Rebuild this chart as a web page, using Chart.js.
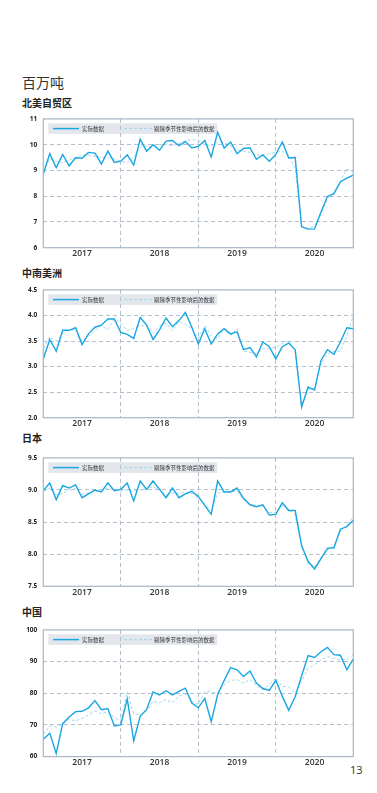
<!DOCTYPE html>
<html><head><meta charset="utf-8">
<script src="https://cdn.jsdelivr.net/npm/chart.js@4/dist/chart.umd.min.js"></script>
<style>
html,body{margin:0;padding:0;background:#fff;width:377px;height:793px;overflow:hidden;font-family:"Noto Sans CJK SC",sans-serif;}
.t{position:absolute;left:22px;color:#222;white-space:nowrap;line-height:1;}
.unit{font-size:14px;font-weight:400;color:#333;}
.pt{font-size:10px;font-weight:700;}
.pg{position:absolute;left:350px;top:764px;font-family:"Open Sans",sans-serif;font-size:11px;color:#333;line-height:1;}
canvas{position:absolute;left:0;}
</style></head><body>
<div class="t unit" style="top:75px">百万吨</div>
<div class="t pt" style="top:97.5px">北美自贸区</div>
<div class="t pt" style="top:267.8px">中南美洲</div>
<div class="t pt" style="top:432.8px">日本</div>
<div class="t pt" style="top:606.8px">中国</div>
<div class="pg">13</div>
<canvas id="c1"></canvas>
<canvas id="c2"></canvas>
<canvas id="c3"></canvas>
<canvas id="c4"></canvas>
<script>
const months = ['2017-01','2017-02','2017-03','2017-04','2017-05','2017-06','2017-07','2017-08','2017-09','2017-10','2017-11','2017-12',
'2018-01','2018-02','2018-03','2018-04','2018-05','2018-06','2018-07','2018-08','2018-09','2018-10','2018-11','2018-12',
'2019-01','2019-02','2019-03','2019-04','2019-05','2019-06','2019-07','2019-08','2019-09','2019-10','2019-11','2019-12',
'2020-01','2020-02','2020-03','2020-04','2020-05','2020-06','2020-07','2020-08','2020-09','2020-10','2020-11','2020-12','2021-01'];
const yearLabels = ['2017','2018','2019','2020'];
const seriesNames = ['实际数据','剔除季节性影响后的数据'];

const naActual = [8.87,9.65,9.11,9.62,9.18,9.49,9.47,9.70,9.67,9.25,9.75,9.31,
9.36,9.60,9.21,10.21,9.74,10.00,9.78,10.14,10.16,9.96,10.12,9.87,
9.93,10.16,9.52,10.48,9.87,10.10,9.65,9.85,9.88,9.43,9.60,9.36,
9.62,10.11,9.48,9.50,6.81,6.72,6.73,7.39,7.99,8.10,8.55,8.70,8.82];
const naAdjusted = [8.94,9.45,9.35,9.30,9.40,9.50,9.60,9.60,9.55,9.50,9.50,9.45,
9.35,9.30,9.50,9.90,9.95,9.90,10.00,10.00,9.95,10.05,10.15,10.20,
10.15,10.00,9.95,10.10,10.10,9.95,9.80,9.75,9.70,9.60,9.60,9.65,
9.70,9.75,9.60,9.10,6.85,6.75,6.85,7.30,7.90,8.15,8.60,9.05,8.95];

const csaActual = [3.15,3.53,3.30,3.71,3.71,3.76,3.43,3.64,3.77,3.81,3.93,3.93,
3.67,3.63,3.55,3.96,3.81,3.53,3.72,3.95,3.78,3.90,4.06,3.77,
3.44,3.74,3.44,3.64,3.74,3.64,3.68,3.33,3.37,3.19,3.48,3.39,
3.15,3.39,3.46,3.33,2.21,2.60,2.54,3.12,3.33,3.24,3.48,3.76,3.74];
const csaAdjusted = [3.35,3.58,3.50,3.65,3.72,3.72,3.50,3.60,3.70,3.80,3.72,3.93,
3.85,3.70,3.75,3.80,3.80,3.65,3.80,3.85,3.70,3.88,3.82,3.75,
3.55,3.80,3.60,3.55,3.74,3.60,3.75,3.30,3.28,3.25,3.35,3.35,
3.38,3.45,3.50,3.30,2.25,2.55,2.58,3.05,3.25,3.30,3.30,3.60,4.00];

const jpActual = [8.99,9.11,8.85,9.07,9.03,9.08,8.88,8.94,9.00,8.97,9.11,8.99,
9.01,9.11,8.83,9.14,9.01,9.14,9.01,8.88,9.03,8.88,8.94,8.98,
8.90,8.76,8.62,9.14,8.97,8.97,9.03,8.87,8.77,8.74,8.77,8.61,
8.62,8.80,8.68,8.68,8.13,7.89,7.77,7.93,8.09,8.10,8.39,8.43,8.53];
const jpAdjusted = [8.98,9.03,8.92,8.95,9.00,9.02,8.93,8.96,8.98,9.00,9.03,9.00,
8.98,9.00,8.98,9.00,9.02,9.05,9.00,8.92,8.95,8.95,8.96,8.95,
8.88,8.78,8.68,8.95,8.97,8.98,8.98,8.85,8.78,8.75,8.75,8.65,
8.65,8.75,8.70,8.60,8.15,7.85,7.80,7.95,8.07,8.12,8.36,8.45,8.58];

const cnActual = [65.5,67.4,61.0,70.4,72.5,74.2,74.3,75.4,77.7,74.8,75.2,69.7,
70.0,78.2,65.0,72.7,74.9,80.4,79.5,80.8,79.5,80.6,81.6,76.9,
75.4,78.4,71.0,79.6,84.0,88.1,87.4,85.3,87.0,83.2,81.5,80.9,
84.1,79.1,74.6,78.9,85.5,91.9,91.3,93.1,94.5,92.2,92.0,87.4,90.8];
const cnAdjusted = [67.0,69.7,69.4,70.2,71.8,71.3,72.1,73.1,74.4,73.5,74.2,72.3,
71.3,80.4,73.5,73.1,74.4,77.5,77.0,78.0,77.0,79.1,79.8,77.5,
76.5,80.6,80.4,80.1,82.7,84.0,84.3,83.2,84.3,82.5,81.1,82.7,
84.8,82.2,81.9,80.1,83.8,87.9,89.0,90.5,91.6,91.0,90.5,90.8,92.1];

const ACT = '#19a6e1', ADJ = '#a3d6f1', GRID = '#b3bfcd', FRAME = '#a9b5c5', LEGBG = '#e3e7ec';

const frameLegend = {
  id: 'frameLegend',
  beforeDraw(chart) {
    const ca = chart.chartArea, ctx = chart.ctx, ds = chart.data.datasets;
    ctx.save();
    ctx.fillStyle = LEGBG;
    ctx.fillRect(ca.left + 5, ca.top + 4.4, 169, 10.6);
    const y = ca.top + 9.7;
    ctx.strokeStyle = ds[0].borderColor; ctx.lineWidth = 1.5; ctx.setLineDash([]);
    ctx.beginPath(); ctx.moveTo(ca.left + 9.7, y); ctx.lineTo(ca.left + 35.7, y); ctx.stroke();
    ctx.strokeStyle = ds[1].borderColor; ctx.lineWidth = 1; ctx.setLineDash(ds[1].borderDash);
    ctx.beginPath(); ctx.moveTo(ca.left + 80.7, y); ctx.lineTo(ca.left + 108.7, y); ctx.stroke();
    ctx.setLineDash([]);
    ctx.fillStyle = '#333'; ctx.font = '5.5px "Noto Sans CJK SC"'; ctx.textBaseline = 'middle';
    ctx.fillText(ds[0].label, ca.left + 38.7, y);
    ctx.fillText(ds[1].label, ca.left + 110.7, y);
    ctx.restore();
  },
  afterDatasetsDraw(chart) {
    const ca = chart.chartArea, ctx = chart.ctx;
    ctx.save();
    ctx.strokeStyle = FRAME; ctx.lineWidth = 1.2;
    ctx.strokeRect(ca.left, ca.top, ca.right - ca.left, ca.bottom - ca.top);
    ctx.restore();
  }
};

function makePanel(id, plotTop, plotBottom, actual, adjusted, ymin, ymax, ystep, dec) {
  const cv = document.getElementById(id);
  const top = Math.floor(plotTop) - 9;
  const padTop = plotTop - top;
  const H = Math.ceil(plotBottom) + 16 - top;
  const xh = H - (plotBottom - top);
  cv.style.top = top + 'px';
  cv.width = 360; cv.height = H;
  new Chart(cv, {
    type: 'line',
    data: {
      labels: months,
      datasets: [
        { label: seriesNames[0], data: actual, borderColor: ACT, borderWidth: 1.4, pointRadius: 0, tension: 0, fill: false, order: 1 },
        { label: seriesNames[1], data: adjusted, borderColor: ADJ, borderWidth: 1, borderDash: [3, 2], pointRadius: 0, tension: 0, fill: false, order: 2 }
      ]
    },
    options: {
      responsive: false, animation: false, devicePixelRatio: 1,
      layout: { padding: { top: padTop, right: 360 - 353.3, left: 0, bottom: 0 } },
      plugins: { legend: { display: false }, tooltip: { enabled: false } },
      scales: {
        x: {
          type: 'category', offset: false,
          afterFit: s => { s.height = xh; },
          grid: { drawTicks: false, lineWidth: 1,
            color: c => (c.index % 12 === 0 && c.index > 0 && c.index < 48) ? GRID : 'rgba(0,0,0,0)' },
          border: { display: false, dash: [4, 3] },
          ticks: { autoSkip: false, maxRotation: 0, padding: 1, color: '#333',
            font: { family: 'Open Sans', size: 8.5, weight: '600' },
            callback: (v, i) => (i % 12 === 6) ? yearLabels[(i - 6) / 12] : '' }
        },
        y: {
          min: ymin, max: ymax,
          afterFit: s => { s.width = 43.3; },
          grid: { drawTicks: false, lineWidth: 1,
            color: c => (c.tick && c.tick.value > ymin && c.tick.value < ymax) ? GRID : 'rgba(0,0,0,0)' },
          border: { display: false, dash: [4, 3] },
          ticks: { stepSize: ystep, padding: 6, color: '#222',
            font: { family: 'Open Sans', size: 6.5, weight: 'bold' },
            callback: v => dec ? Number(v).toFixed(dec) : v }
        }
      }
    },
    plugins: [frameLegend]
  });
}

makePanel('c1', 118.3, 247.7, naActual, naAdjusted, 6, 11, 1, 0);
makePanel('c2', 289, 417.7, csaActual, csaAdjusted, 2, 4.5, 0.5, 1);
makePanel('c3', 457.3, 586.3, jpActual, jpAdjusted, 7.5, 9.5, 0.5, 1);
makePanel('c4', 629, 756.6, cnActual, cnAdjusted, 60, 100, 10, 0);
</script>
</body></html>
